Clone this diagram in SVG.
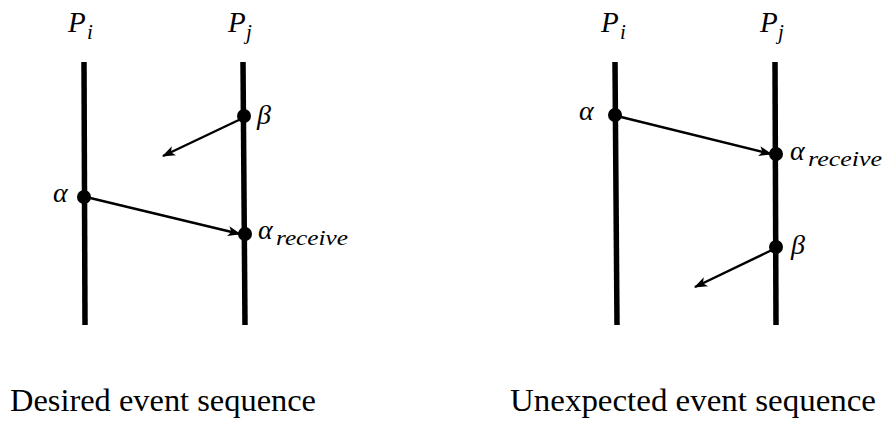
<svg xmlns="http://www.w3.org/2000/svg" width="887" height="423" viewBox="0 0 887 423">
<defs>
<marker id="ah" viewBox="0 0 12 10" refX="11" refY="5" markerWidth="14" markerHeight="11" markerUnits="userSpaceOnUse" orient="auto">
<path d="M0,0.5 L12,5 L0,9.5 L3,5 Z" fill="#000"/>
</marker>
</defs>
<style>
.proc{stroke:#000;stroke-width:5.5;fill:none}
.msg{stroke:#000;stroke-width:2.4;fill:none;marker-end:url(#ah)}
.ev{fill:#000}
text{font-family:"Liberation Serif","Times New Roman",serif;fill:#000}
.m{font-style:italic;font-size:29px}
.g{font-style:italic;font-size:28px}
.s{font-style:italic;font-size:21px}
.cap{font-size:32px}
</style>
<rect width="887" height="423" fill="#fff"/>
<g id="left">
<g id="L-Pi"><line class="proc" x1="84" y1="62" x2="85" y2="325"/><text class="m" x="68" y="32">P</text><text class="s" x="87" y="39">i</text></g>
<g id="L-Pj"><line class="proc" x1="243" y1="62" x2="245" y2="325"/><text class="m" x="228" y="32">P</text><text class="s" x="246" y="39">j</text></g>
<g id="L-beta"><circle class="ev" cx="244" cy="116" r="7"/><text class="g" x="257" y="124">β</text></g>
<g id="L-alpha"><circle class="ev" cx="84" cy="197" r="7"/><text class="g" x="53" y="202">α</text></g>
<g id="L-arecv"><circle class="ev" cx="245" cy="234" r="7"/><text class="g" x="258" y="239">α</text><text class="s" x="276" y="245" textLength="72" lengthAdjust="spacingAndGlyphs">receive</text></g>
</g>
<g id="right">
<g id="R-Pi"><line class="proc" x1="615" y1="62" x2="617" y2="325"/><text class="m" x="601" y="32">P</text><text class="s" x="620" y="39">i</text></g>
<g id="R-Pj"><line class="proc" x1="775" y1="62" x2="776" y2="325"/><text class="m" x="760" y="32">P</text><text class="s" x="778" y="39">j</text></g>
<g id="R-alpha"><circle class="ev" cx="615" cy="115" r="7"/><text class="g" x="579" y="120">α</text></g>
<g id="R-arecv"><circle class="ev" cx="776" cy="154" r="7"/><text class="g" x="790" y="160">α</text><text class="s" x="808" y="166" textLength="74" lengthAdjust="spacingAndGlyphs">receive</text></g>
<g id="R-beta"><circle class="ev" cx="776" cy="247" r="7"/><text class="g" x="791" y="254">β</text></g>
</g>
<g id="connectors">
<line class="msg" x1="243" y1="118" x2="163" y2="156"/>
<line class="msg" x1="86" y1="197" x2="240" y2="234"/>
<line class="msg" x1="617" y1="116" x2="771" y2="154"/>
<line class="msg" x1="774" y1="249" x2="695" y2="287"/>
</g>
<text class="cap" x="10" y="411" textLength="306" lengthAdjust="spacingAndGlyphs">Desired event sequence</text>
<text class="cap" x="510" y="411" textLength="366" lengthAdjust="spacingAndGlyphs">Unexpected event sequence</text>
</svg>
